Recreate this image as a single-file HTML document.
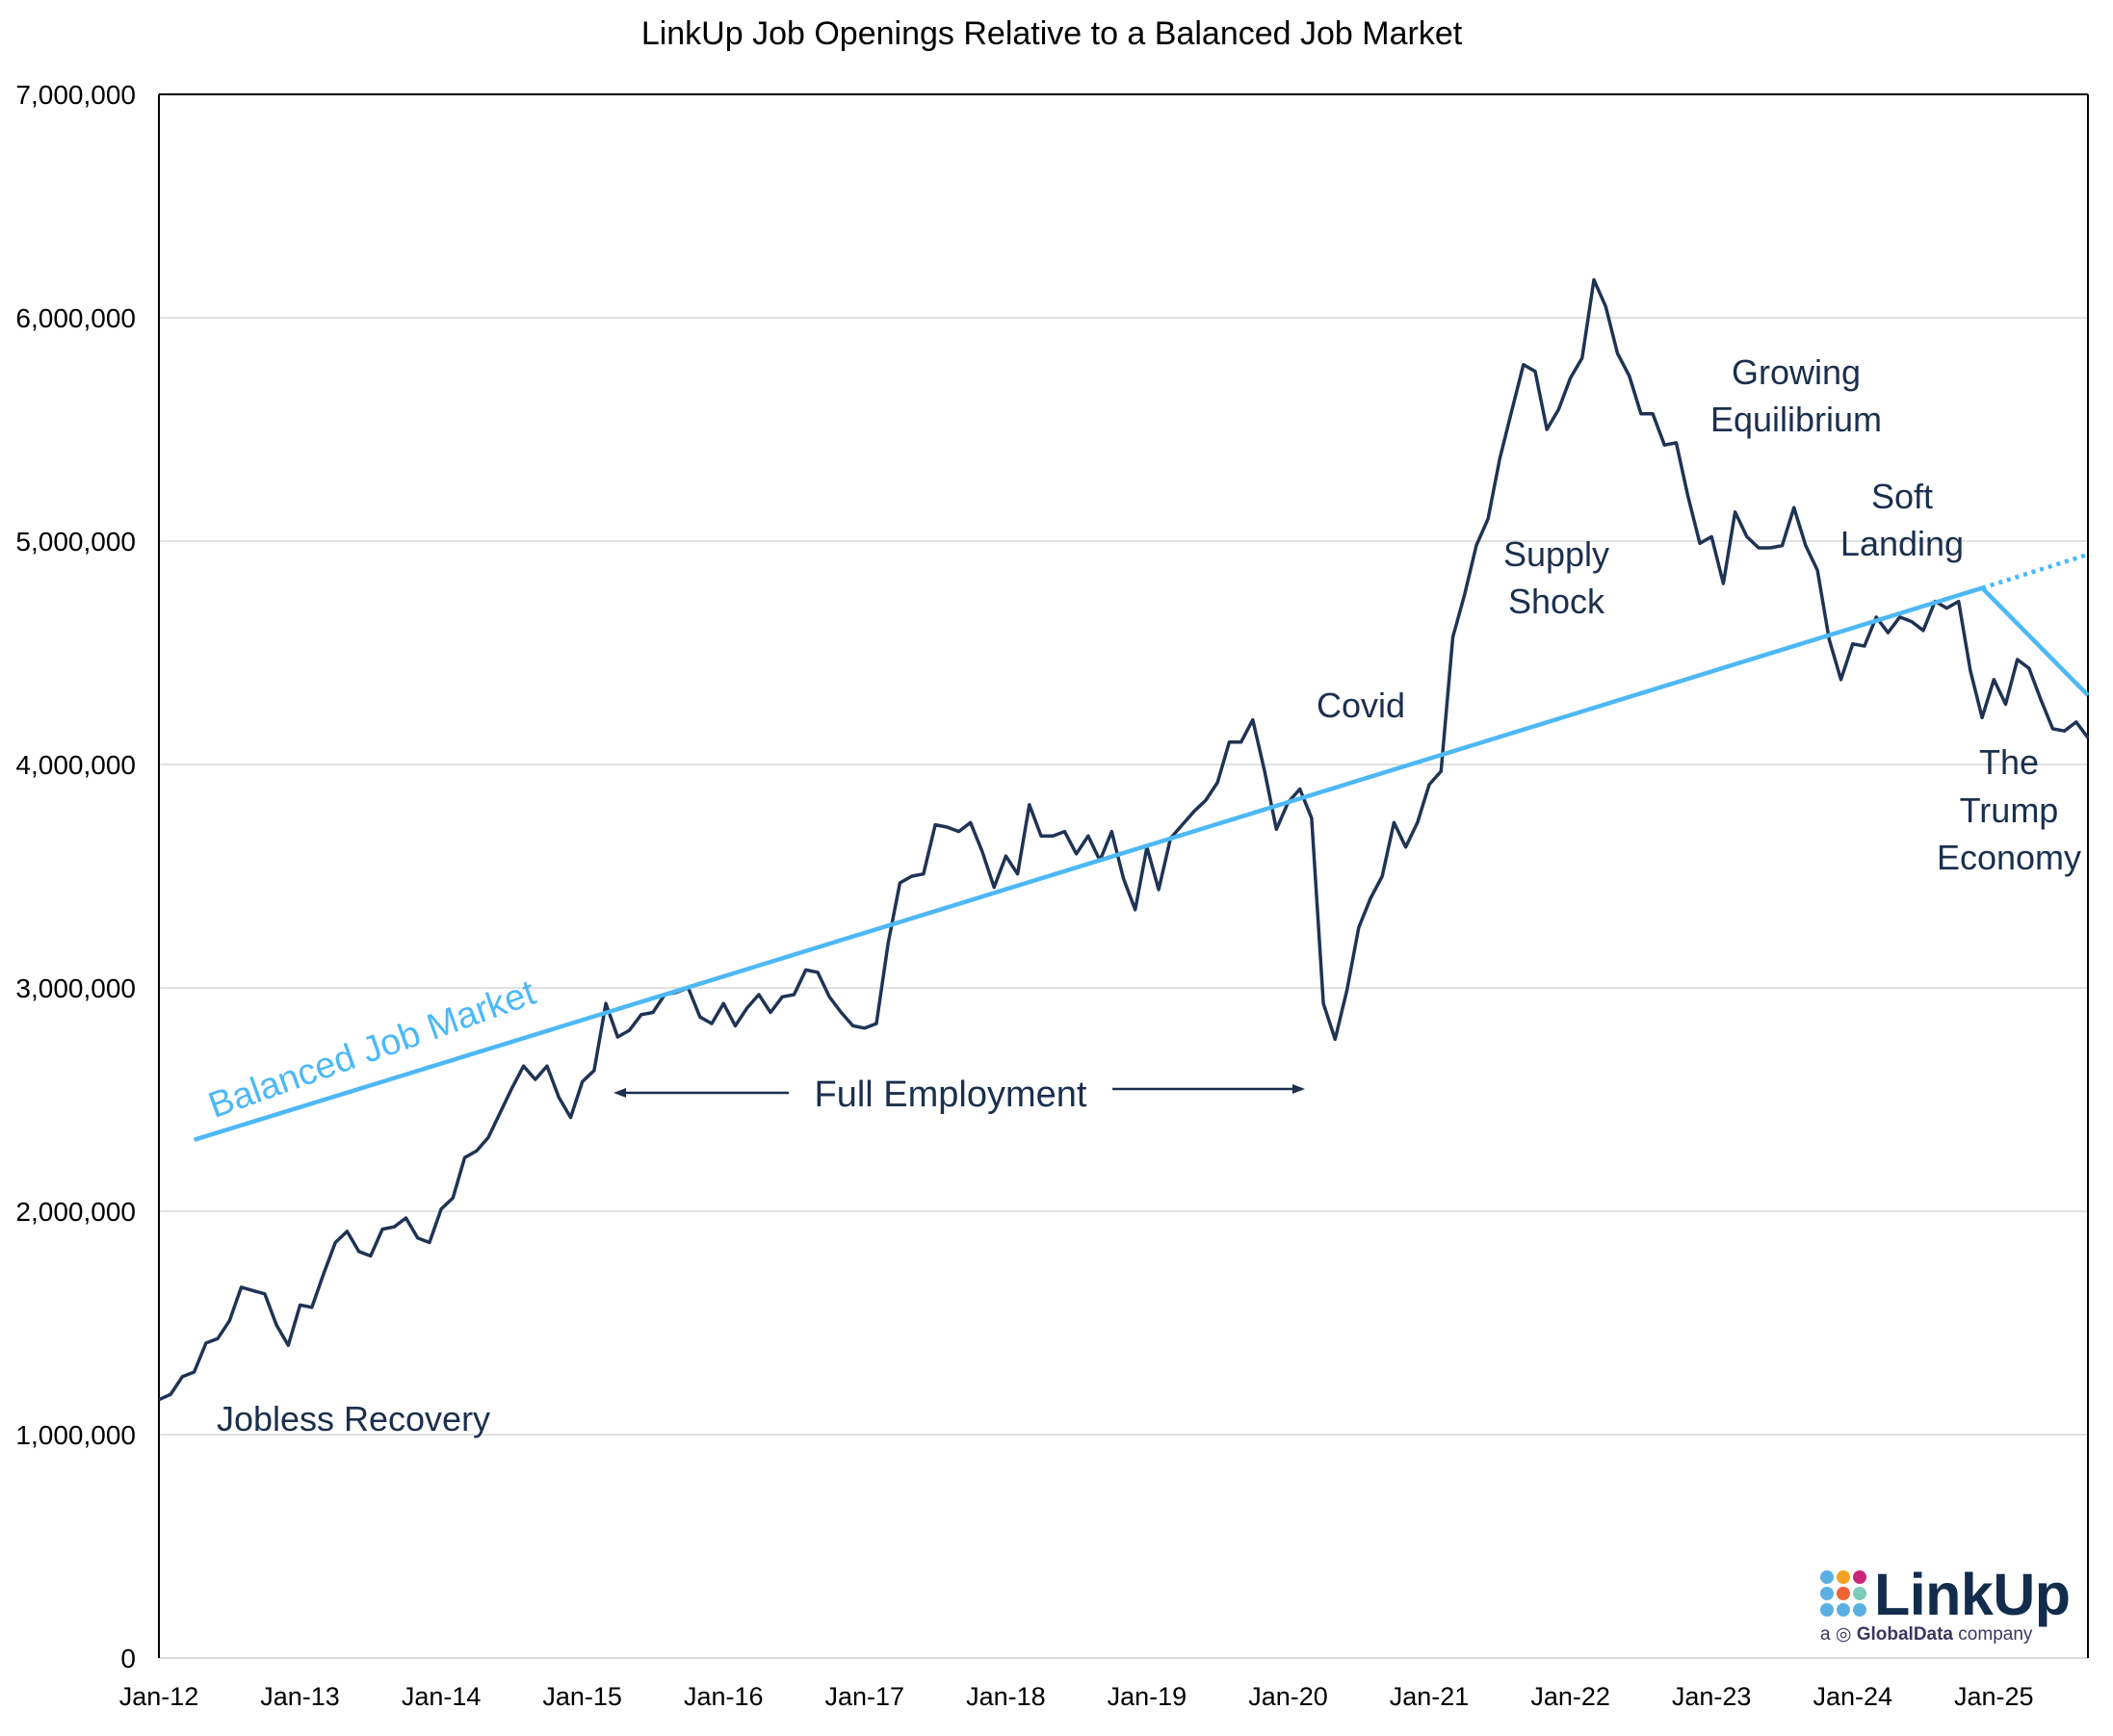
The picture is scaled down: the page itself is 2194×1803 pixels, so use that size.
<!DOCTYPE html>
<html><head><meta charset="utf-8"><style>
body{margin:0;background:#fff;}
svg text{font-family:"Liberation Sans",sans-serif;}
</style></head><body>
<svg id="chart" width="2194" height="1798" viewBox="0 0 2194 1798" xmlns="http://www.w3.org/2000/svg">
<rect width="2194" height="1798" fill="#fff"/>
<text x="1092" y="46" text-anchor="middle" font-size="34" fill="#000">LinkUp Job Openings Relative to a Balanced Job Market</text>
<g id="grid"></g>
<g id="yticks"></g>
<g id="xticks"></g>
<line x1="165" y1="98" x2="165" y2="1722" stroke="#000" stroke-width="2"/>
<line x1="2168" y1="98" x2="2168" y2="1722" stroke="#000" stroke-width="2"/>
<line x1="165" y1="98" x2="2168" y2="98" stroke="#000" stroke-width="2"/>
<g id="series"></g>
<g fill="#1b2f4e" font-size="36" text-anchor="middle">
<text x="386" y="1102" fill="#4db8f5" font-size="38" transform="rotate(-19.7 386 1089)">Balanced Job Market</text>
<text x="987" y="1149" font-size="38">Full Employment</text>
<text x="367" y="1486">Jobless Recovery</text>
<text x="1413" y="745">Covid</text>
<text x="1616" y="588">Supply</text>
<text x="1616" y="637">Shock</text>
<text x="1865" y="399">Growing</text>
<text x="1865" y="448">Equilibrium</text>
<text x="1975" y="528">Soft</text>
<text x="1975" y="577">Landing</text>
<text x="2086" y="804">The</text>
<text x="2086" y="854">Trump</text>
<text x="2086" y="903">Economy</text>
</g>
<g stroke="#1b2f4e" stroke-width="2.5" fill="#1b2f4e">
<line x1="819" y1="1135" x2="645" y2="1135"/>
<polygon points="637,1135 650,1130 650,1140" stroke="none"/>
<line x1="1155" y1="1131" x2="1347" y2="1131"/>
<polygon points="1355,1131 1342,1126 1342,1136" stroke="none"/>
</g>
<g>
<g id="dots"></g>
<text x="1946" y="1677" font-size="61" font-weight="bold" fill="#132c4c" textLength="204">LinkUp</text>
<text x="1890" y="1703" font-size="19" fill="#3d3560">a ◎ <tspan font-weight="bold">GlobalData</tspan> company</text>
</g>
</svg>
<script>
const yTicks=[0,1000000,2000000,3000000,4000000,5000000,6000000,7000000];
const xTickLabels=["Jan-12","Jan-13","Jan-14","Jan-15","Jan-16","Jan-17","Jan-18","Jan-19","Jan-20","Jan-21","Jan-22","Jan-23","Jan-24","Jan-25"];
const openings=[
1.157,1.18,1.26,1.28,1.41,1.43,1.51,1.66,1.645,1.63,1.49,1.40,
1.58,1.57,1.72,1.86,1.91,1.82,1.80,1.92,1.93,1.97,1.88,1.86,
2.01,2.06,2.24,2.27,2.33,2.44,2.55,2.65,2.59,2.65,2.51,2.42,
2.58,2.63,2.93,2.78,2.81,2.88,2.89,2.97,2.98,3.00,2.87,2.84,
2.93,2.83,2.91,2.97,2.89,2.96,2.97,3.08,3.07,2.96,2.89,2.83,
2.82,2.84,3.20,3.47,3.50,3.51,3.73,3.72,3.70,3.74,3.61,3.45,
3.59,3.51,3.82,3.68,3.68,3.70,3.60,3.68,3.57,3.70,3.49,3.35,
3.63,3.44,3.67,3.73,3.79,3.84,3.92,4.10,4.10,4.20,3.97,3.71,
3.83,3.89,3.76,2.93,2.77,2.99,3.27,3.40,3.50,3.74,3.63,3.74,
3.91,3.97,4.57,4.76,4.98,5.10,5.37,5.58,5.79,5.76,5.50,5.59,
5.73,5.82,6.17,6.05,5.84,5.74,5.57,5.57,5.43,5.44,5.20,4.99,
5.02,4.81,5.13,5.02,4.97,4.97,4.98,5.15,4.98,4.87,4.56,4.38,
4.54,4.53,4.66,4.59,4.66,4.64,4.60,4.73,4.70,4.73,4.42,4.21,
4.38,4.27,4.47,4.43,4.29,4.16,4.15,4.19,4.12];
const balancedMonths=[3,155];
const balancedValues=[2.32,4.79];
const projectedMonths=[155,164];
const projectedValues=[4.79,4.94];
const adjustedMonths=[155,164];
const adjustedValues=[4.79,4.31];

const NS="http://www.w3.org/2000/svg";
const X0=165,X1=2168,Y0=1722,Y1=98,MAXM=164;
const xs=m=>X0+m*(X1-X0)/MAXM;
const ys=v=>Y0-v/7000000*(Y0-Y1);
const ysM=v=>ys(v*1e6);
function mk(tag,attrs,parent){const e=document.createElementNS(NS,tag);for(const k in attrs)e.setAttribute(k,attrs[k]);parent.appendChild(e);return e;}
const grid=document.getElementById('grid'),yt=document.getElementById('yticks'),xt=document.getElementById('xticks'),ser=document.getElementById('series');
yTicks.forEach((v,i)=>{
  if(i>0&&i<yTicks.length-1){const g=mk('line',{x1:X0,x2:X1,y1:ys(v),y2:ys(v),stroke:'#d9d9d9','stroke-width':1.5},grid);
  
  }
  if(i===0){const g=mk('line',{x1:X0,x2:X1,y1:ys(v),y2:ys(v),stroke:'#d9d9d9','stroke-width':2},grid);
  
  }
  const t=mk('text',{x:141,y:ys(v)+10,'text-anchor':'end','font-size':28,fill:'#000'},yt);
  t.textContent=v.toLocaleString('en-US');
  
  
});
xTickLabels.forEach((s,i)=>{
  const t=mk('text',{x:xs(i*12),y:1771,'text-anchor':'middle','font-size':27,fill:'#000'},xt);
  t.textContent=s;
  
  
});
const pts=openings.map((v,i)=>xs(i).toFixed(1)+','+ysM(v).toFixed(1)).join(' ');
const ol=mk('polyline',{points:pts,fill:'none',stroke:'#1f3354','stroke-width':3.5,'stroke-linejoin':'round'},ser);


function line(ms,vs,name,dash){
  const p=ms.map((m,i)=>xs(m).toFixed(1)+','+ysM(vs[i]).toFixed(1)).join(' ');
  const a={points:p,fill:'none',stroke:'#4db8f5','stroke-width':4.5};
  if(dash)a['stroke-dasharray']=dash;
  const e=mk('polyline',a,ser);
  
  
}
line(balancedMonths,balancedValues,'balanced-job-market-line');
line(projectedMonths,projectedValues,'balanced-projection-dotted-line','4 5');
line(adjustedMonths,adjustedValues,'balanced-adjusted-line');
const dots=document.getElementById('dots');
const cols=[['#5bb0e3','#f4a223','#c8267a'],['#5bb0e3','#ef6232','#7dcbb9'],['#5bb0e3','#5bb0e3','#5bb0e3']];
cols.forEach((r,ri)=>r.forEach((c,ci)=>{
  const d=mk('circle',{cx:1897+ci*17,cy:1638+ri*17,r:7,fill:c},dots);
  
  
}));
</script>
</body></html>
